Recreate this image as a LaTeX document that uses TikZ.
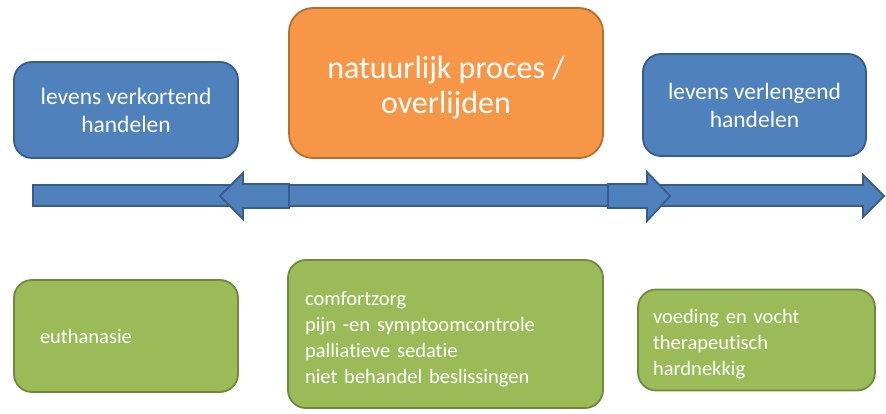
\documentclass[tikz,border=0pt]{standalone}
\usepackage{fontspec}
\setmainfont[Ligatures=CommonOff]{Carlito}
\definecolor{bfill}{HTML}{4F81BD}
\definecolor{bdraw}{HTML}{385D8A}
\definecolor{ofill}{HTML}{F79646}
\definecolor{odraw}{HTML}{B66D31}
\definecolor{gfill}{HTML}{9BBB59}
\definecolor{gdraw}{HTML}{71893F}
\tikzset{
  box/.style={rounded corners=18pt, line width=1.8pt, text=white, inner sep=0pt},
  bluebox/.style={box, fill=bfill, draw=bdraw, align=center, font=\fontsize{23.5}{28}\selectfont},
  orangebox/.style={box, fill=ofill, draw=odraw, align=center, rounded corners=24pt, font=\fontsize{32}{35}\selectfont},
  greenbox/.style={box, fill=gfill, draw=gdraw, align=left, font=\fontsize{20.5}{26}\selectfont},
  bigarrow/.style={fill=bfill, draw=bdraw, line width=1.8pt, line join=miter},
}
\begin{document}
\begin{tikzpicture}[x=1pt,y=-1pt]
\useasboundingbox (0,0) rectangle (886,414);
% long arrow
\draw[bigarrow] (33,185) -- (863,185) -- (863,175) -- (884,196) -- (863,217) -- (863,206) -- (33,206) -- cycle;
% overlay arrows
\draw[bigarrow] (289,184) -- (243,184) -- (243,173) -- (220,196) -- (243,219) -- (243,208) -- (289,208) -- cycle;
\draw[bigarrow] (608,184) -- (647,184) -- (647,172) -- (670,196) -- (647,221) -- (647,208) -- (608,208) -- cycle;
% top boxes
\node[bluebox, minimum width=224pt, minimum height=96pt] (lk) at (126,110) {levens verkortend\\handelen};
\node[orangebox, minimum width=314pt, minimum height=150pt] (np) at (446,83) {\rule{0pt}{32pt}natuurlijk proces /\\overlijden};
\node[bluebox, minimum width=223pt, minimum height=102pt] (lv) at (754.5,105) {levens verlengend\\handelen};
% bottom boxes
\node[greenbox, text width=172pt, inner xsep=26pt, minimum height=112pt] (eu) at (126,336) {euthanasie};
\node[greenbox, text width=281pt, inner xsep=17pt, minimum height=148pt] (cz) at (445.5,334) {\rule{0pt}{24pt}comfortzorg\\pijn -en symptoomcontrole\\palliatieve sedatie\\niet behandel beslissingen};
\node[greenbox, text width=207pt, inner xsep=15pt, minimum height=101pt] (vv) at (756.5,340) {\rule{0pt}{22pt}voeding en vocht\\therapeutisch\\hardnekkig};
\end{tikzpicture}
\end{document}
